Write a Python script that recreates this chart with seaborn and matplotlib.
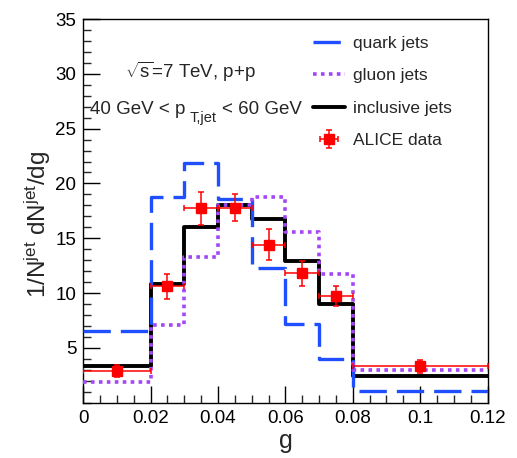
import numpy as np
import pandas as pd
import matplotlib
matplotlib.use("Agg")
import matplotlib.pyplot as plt
import seaborn as sns

# Bin edges in groomed momentum fraction g
bin_edges = [0.0, 0.02, 0.03, 0.04, 0.05, 0.06, 0.07, 0.08, 0.12]

# Model predictions per bin
quark_jets = [6.55, 18.75, 21.9, 18.6, 12.3, 7.15, 4.0, 1.08]
gluon_jets = [1.85, 7.05, 13.3, 18.05, 18.8, 15.6, 11.7, 2.97]
inclusive_jets = [3.35, 10.8, 16.0, 18.05, 16.75, 12.9, 8.97, 2.4]

# ALICE measurement
data_g = [0.01, 0.025, 0.035, 0.045, 0.055, 0.065, 0.075, 0.10]
data_gerr = [0.01, 0.005, 0.005, 0.005, 0.005, 0.005, 0.005, 0.02]
data_val = [2.88, 10.6, 17.75, 17.8, 14.4, 11.8, 9.75, 3.3]
data_err = [0.55, 1.15, 1.5, 1.2, 1.4, 1.15, 0.9, 0.6]

x_ticks = [0, 0.02, 0.04, 0.06, 0.08, 0.1, 0.12]
x_ticklabels = ["0", "0.02", "0.04", "0.06", "0.08", "0.1", "0.12"]
y_ticks = [5, 10, 15, 20, 25, 30, 35]

sns.set_theme(style="ticks")
plt.rcParams["font.family"] = ["Liberation Sans", "DejaVu Sans"]
plt.rcParams["mathtext.fontset"] = "custom"
plt.rcParams["mathtext.rm"] = "Liberation Sans"
plt.rcParams["mathtext.it"] = "Liberation Sans:italic"
plt.rcParams["mathtext.bf"] = "Liberation Sans:bold"


def step_frame(values, name):
    # repeat the last bin value at the upper edge so the step closes
    return pd.DataFrame({"g": bin_edges, "v": list(values) + [values[-1]], "model": name})


fig = plt.figure(figsize=(5.17, 4.58), dpi=100)
ax = fig.add_axes([0.161, 0.1208, 0.782, 0.8377])

blue = "#1f4fff"
purple = "#a346f5"

sns.lineplot(data=step_frame(inclusive_jets, "inclusive jets"), x="g", y="v", ax=ax,
             drawstyle="steps-post", color="black", lw=2.8, label="inclusive jets",
             zorder=3)
sns.lineplot(data=step_frame(quark_jets, "quark jets"), x="g", y="v", ax=ax,
             drawstyle="steps-post", color=blue, lw=2.4, label="quark jets",
             dashes=False, zorder=4)
sns.lineplot(data=step_frame(gluon_jets, "gluon jets"), x="g", y="v", ax=ax,
             drawstyle="steps-post", color=purple, lw=2.6, label="gluon jets",
             dashes=False, zorder=5)

lines = ax.get_lines()
lines[1].set_dashes([8.2, 3.0])
lines[2].set_dashes([1.0, 1.2])

err = ax.errorbar(data_g, data_val, xerr=data_gerr, yerr=data_err, fmt="s",
                  color="#ff0000", ms=7.5, elinewidth=1.1, capsize=2.2,
                  capthick=1.1, zorder=6, label="ALICE data")

ax.set_xlim(0, 0.12)
ax.set_ylim(0, 35)
ax.set_xticks(x_ticks)
ax.set_xticklabels(x_ticklabels)
ax.set_yticks(y_ticks)
ax.set_xticks(np.arange(0, 0.1201, 0.005), minor=True)
ax.set_yticks(np.arange(0, 35.01, 1), minor=True)
ax.tick_params(which="major", direction="in", length=12, width=1.0,
               labelsize=13.5, pad=5, colors="black")
ax.tick_params(which="minor", direction="in", length=6, width=1.0)
for s in ax.spines.values():
    s.set_linewidth(1.0)
    s.set_color("black")

ax.set_xlabel("g", fontsize=18, labelpad=2)
ax.set_ylabel(r"1/N$^{\mathregular{jet}}$ dN$^{\mathregular{jet}}$/dg", fontsize=17.5)
ax.yaxis.label.set_va("center")
ax.yaxis.set_label_coords(-0.112, 0.464)

# Collision system
ax.text(0.0317, 29.64, r"$\mathregular{\sqrt{s}}$=7 TeV, p+p", fontsize=13.5,
        ha="center", va="baseline")

# Jet transverse momentum window, with a ROOT-style low subscript
pt_base_y = 26.3
t1 = ax.text(0.002, pt_base_y, "40 GeV < p", fontsize=13.5, ha="left", va="baseline")
t2 = ax.annotate("T,jet", xy=(1, 0), xycoords=t1, xytext=(3.4, -2.3),
                 textcoords="offset points", fontsize=10.5, ha="left", va="baseline")
t3 = ax.annotate("< 60 GeV", xy=(1, pt_base_y), xycoords=(t2, "data"),
                 xytext=(3.4, 0), textcoords="offset points", fontsize=13.5,
                 ha="left", va="baseline")

handles = [lines[1], lines[2], lines[0], err]
labels = ["quark jets", "gluon jets", "inclusive jets", "ALICE data"]
ax.legend(handles, labels, loc="upper left", bbox_to_anchor=(0.552, 0.975),
          frameon=False, fontsize=12.5, handlelength=1.8, handletextpad=0.46,
          labelspacing=1.0, borderaxespad=0)

fig.savefig("out.png", dpi=100)
